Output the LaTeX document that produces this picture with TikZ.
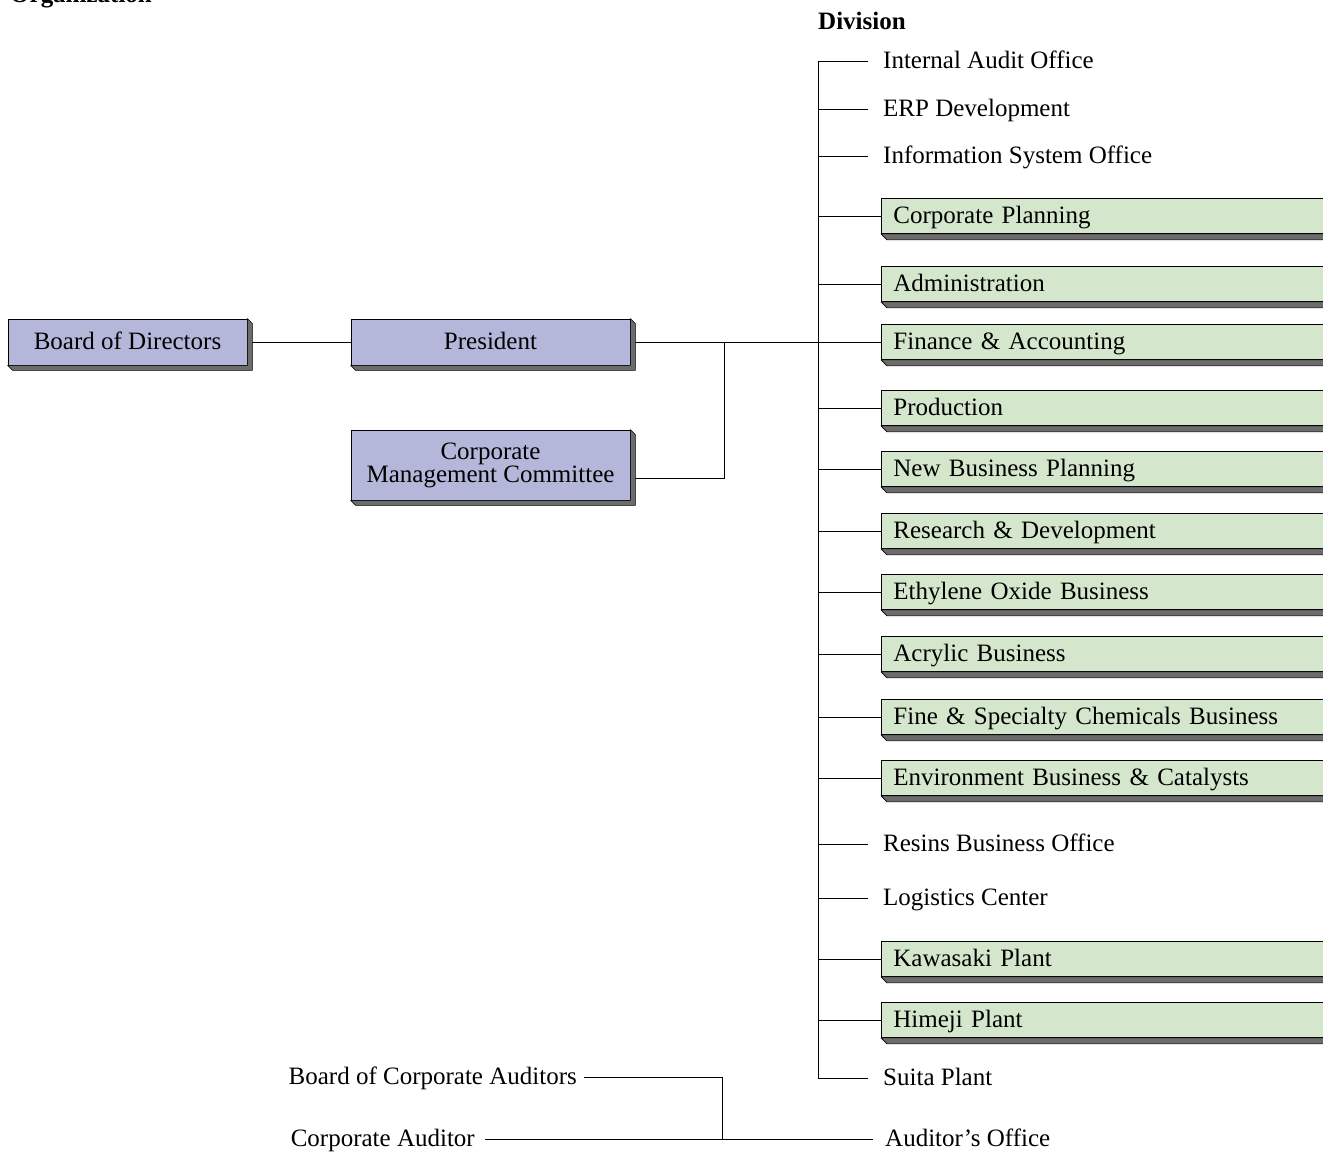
\documentclass[tikz,border=0pt]{standalone}
\usepackage{fontspec}
\setmainfont{Liberation Serif}
\usetikzlibrary{backgrounds,calc}
\definecolor{boxpurple}{RGB}{181,183,218}
\definecolor{boxgreen}{RGB}{212,231,204}
\definecolor{extrude}{RGB}{108,108,108}
\tikzset{
  every node/.style={font=\fontsize{25}{23}\selectfont},
  conn/.style={draw=black, line width=0.9pt},
  pboxbase/.style={draw=black, line width=0.8pt, fill=boxpurple, inner sep=0pt, align=center},
  pbox/.style={pboxbase, text height=18pt, text depth=4pt},
  gbox/.style={draw=black, line width=0.8pt, fill=boxgreen, anchor=west, minimum height=35pt, text width=460pt, inner xsep=12pt, inner ysep=0pt, align=left, text height=18pt, text depth=4pt},
  plain/.style={inner ysep=0pt, text height=18pt, text depth=4pt},
  ext/.style={fill=extrude, draw=black, line width=0.6pt, line join=round},
}
\newcommand{\extr}[2]{%
  \path[ext] (#1.south west) -- ($(#1.south west)+(#2,#2)$) -- ($(#1.south east)+(#2,#2)$) -- ($(#1.north east)+(#2,#2)$) -- (#1.north east) -- (#1.south east) -- cycle;}
\begin{document}
\begin{tikzpicture}[x=1pt,y=-1pt]
\useasboundingbox (0,0) rectangle (1323,1152);
% titles
\node[anchor=base west, inner sep=0pt, font=\fontsize{25}{23}\selectfont\bfseries] (title) at (10,2) {Organization};
\node[anchor=base west, inner sep=0pt, font=\fontsize{25}{23}\selectfont\bfseries] (division) at (818,29) {Division};
% purple boxes
\node[pbox, minimum width=239pt, minimum height=46pt] (bod) at (127.5,342) {Board of Directors};
\node[pbox, minimum width=279pt, minimum height=46pt] (pres) at (490.5,342) {President};
\node[pboxbase, minimum width=279pt, minimum height=70pt] (cmc) at (490.5,465) {Corporate\\Management Committee};
\extr{bod}{5}
\extr{pres}{5}
\extr{cmc}{5}
% plain division labels
\node[plain, anchor=west, inner xsep=15pt] (ia) at (868,61) {Internal Audit Office};
\node[plain, anchor=west, inner xsep=15pt] (erp) at (868,109) {ERP Development};
\node[plain, anchor=west, inner xsep=15pt] (iso) at (868,156) {Information System Office};
\node[plain, anchor=west, inner xsep=15pt] (resins) at (868,844) {Resins Business Office};
\node[plain, anchor=west, inner xsep=15pt] (logi) at (868,898) {Logistics Center};
\node[plain, anchor=west, inner xsep=15pt] (suita) at (868,1078) {Suita Plant};
% green boxes
\node[gbox] (cp) at (881,216) {Corporate Planning};
\node[gbox] (adm) at (881,284) {Administration};
\node[gbox] (fa) at (881,342) {Finance \& Accounting};
\node[gbox] (prod) at (881,408) {Production};
\node[gbox] (nbp) at (881,469) {New Business Planning};
\node[gbox] (rd) at (881,531) {Research \& Development};
\node[gbox] (eo) at (881,592) {Ethylene Oxide Business};
\node[gbox] (acr) at (881,654) {Acrylic Business};
\node[gbox] (fine) at (881,717) {Fine \& Specialty Chemicals Business};
\node[gbox] (env) at (881,778) {Environment Business \& Catalysts};
\node[gbox] (kaw) at (881,959) {Kawasaki Plant};
\node[gbox] (him) at (881,1020) {Himeji Plant};
\foreach \n in {cp,adm,fa,prod,nbp,rd,eo,acr,fine,env,kaw,him}{\extr{\n}{6}}
% auditors
\node[plain, anchor=east, inner xsep=7pt] (bca) at (584,1077) {Board of Corporate Auditors};
\node[plain, anchor=east, inner xsep=10pt] (ca) at (485,1139) {Corporate Auditor};
\node[plain, anchor=west, inner xsep=12pt] (ao) at (873,1139) {Auditor’s Office};
% connectors
\coordinate (tbot) at (818,1078);
\coordinate (cmcj) at (724,478);
\coordinate (aj) at (722,1139);
\begin{pgfonlayer}{background}
\draw[conn] (ia.west) -| (tbot) -- (suita.west);
\foreach \n in {erp,iso,resins,logi,cp,adm,prod,nbp,rd,eo,acr,fine,env,kaw,him}{
  \draw[conn] (tbot |- \n.west) -- (\n.west);}
\draw[conn] (bod.east) -- (pres.west);
\draw[conn] (pres.east) -- (fa.west);
\draw[conn] (cmc.east |- cmcj) -- (cmcj) -- (cmcj |- pres.east);
\draw[conn] (bca.east) -| (aj);
\draw[conn] (ca.east) -- (ao.west);
\end{pgfonlayer}
\end{tikzpicture}
\end{document}
